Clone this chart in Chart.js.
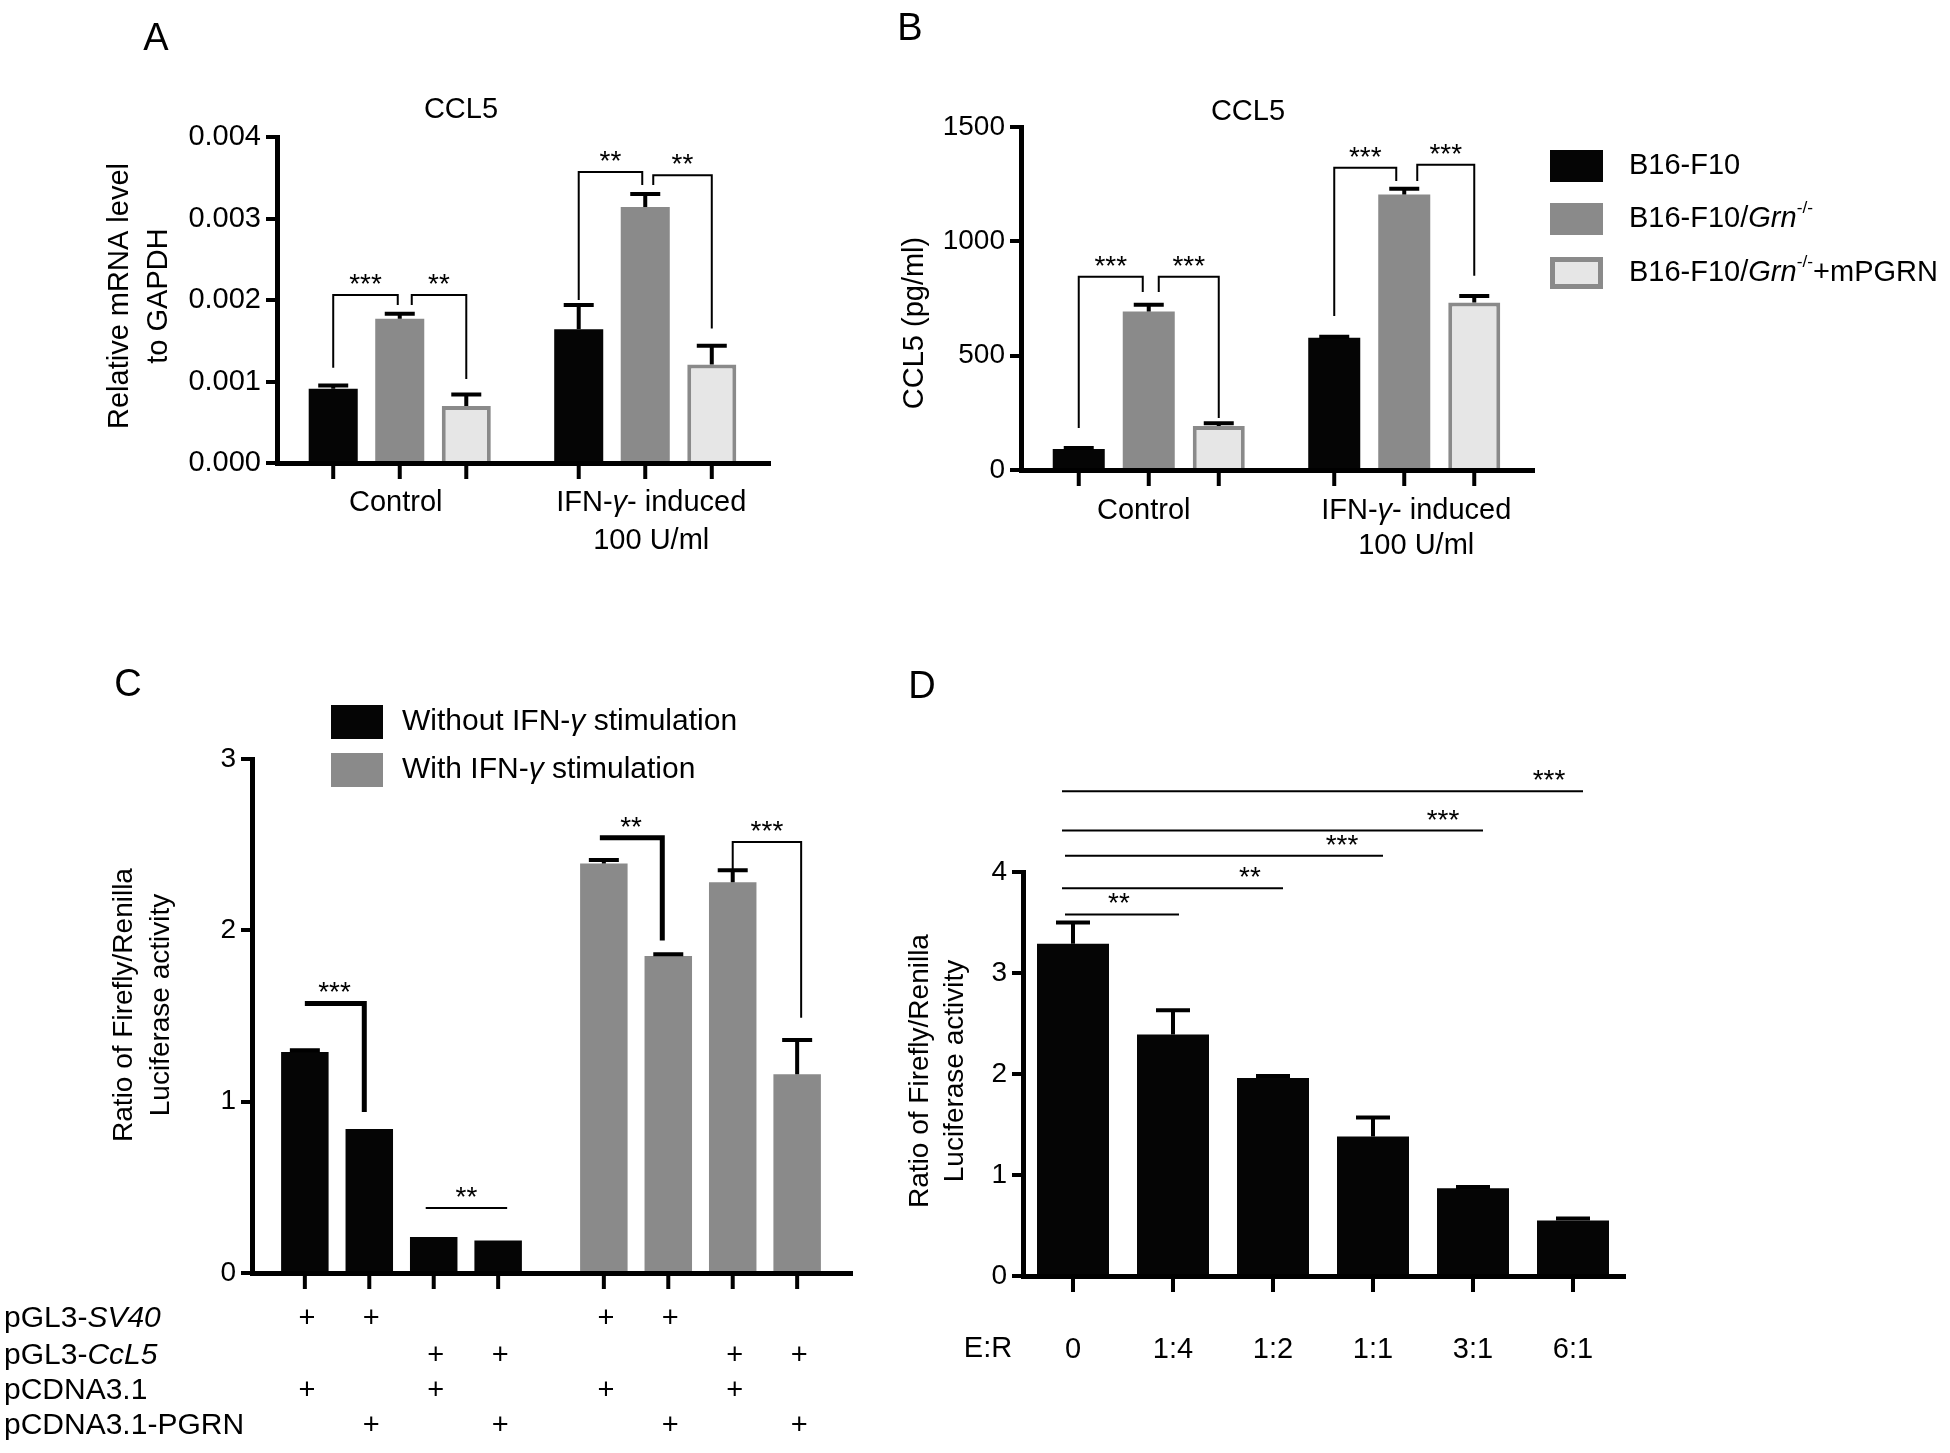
<!DOCTYPE html>
<html>
<head>
<meta charset="utf-8">
<script src="https://cdn.jsdelivr.net/npm/chart.js@4.4.0/dist/chart.umd.min.js"></script>
<style>
  html, body { margin: 0; padding: 0; background: #fff; overflow: hidden; }
  #page { position: relative; width: 1950px; height: 1453px; background: #fff; }
  #page canvas { position: absolute; left: 0; top: 0; }
</style>
</head>
<body>
<div id="page">
  <canvas id="chartA" width="1950" height="1453"></canvas>
  <canvas id="chartB" width="1950" height="1453"></canvas>
  <canvas id="chartC" width="1950" height="1453"></canvas>
  <canvas id="chartD" width="1950" height="1453"></canvas>
</div>
<script>
// ---------- data ----------
// A + B : three cell lines under two conditions
const conditions = ['Control', 'IFN-γ- induced|100 U/ml'];
const cellLines = ['B16-F10', 'B16-F10/Grn-/-', 'B16-F10/Grn-/-+mPGRN'];

// A: CCL5 mRNA relative to GAPDH
const mrnaB16 = [0.00091, 0.00164];
const mrnaGrnKO = [0.00177, 0.00314];
const mrnaRescue = [0.00070, 0.00121];
const mrnaB16Sem = [0.00004, 0.00030];
const mrnaGrnKOSem = [0.00006, 0.00016];
const mrnaRescueSem = [0.00014, 0.00023];
const mrnaTicks = [0, 0.001, 0.002, 0.003, 0.004];

// B: CCL5 protein (pg/ml)
const protB16 = [92, 578];
const protGrnKO = [693, 1205];
const protRescue = [192, 733];
const protB16Sem = [4, 5];
const protGrnKOSem = [30, 25];
const protRescueSem = [12, 28];
const protTicks = [0, 500, 1000, 1500];

// C: reporter assay, 4 plasmid combinations, without / with IFN-γ
const stimulation = ['Without IFN-γ stimulation', 'With IFN-γ stimulation'];
const plasmidRows = ['pGL3-SV40', 'pGL3-CcL5', 'pCDNA3.1', 'pCDNA3.1-PGRN'];
const combos = [[1, 0, 1, 0], [1, 0, 0, 1], [0, 1, 1, 0], [0, 1, 0, 1]]; // "+" per row
const lucWithout = [1.29, 0.84, 0.21, 0.19];
const lucWith = [2.39, 1.85, 2.28, 1.16];
const lucWithoutSem = [0.01, 0, 0, 0];
const lucWithSem = [0.02, 0.01, 0.07, 0.20];
const lucTicks = [0, 1, 2, 3];

// D: reporter activity vs E:R ratio
const erRatios = ['0', '1:4', '1:2', '1:1', '3:1', '6:1'];
const erLuc = [3.29, 2.39, 1.96, 1.38, 0.87, 0.55];
const erLucSem = [0.21, 0.24, 0.02, 0.19, 0.01, 0.02];
const erTicks = [0, 1, 2, 3, 4];

// significance marks: [dataset, index, px shift], heights in data units
const sigA = [
  {a: [0, 0, 0], b: [1, 0, -2], level: 0.00206, dropA: 0.00117, dropB: 0.00194, text: '***'},
  {a: [1, 0, 12], b: [2, 0, 0], level: 0.00206, dropA: 0.00194, dropB: 0.00103, text: '**'},
  {a: [0, 1, 0], b: [1, 1, -3], level: 0.00357, dropA: 0.0020, dropB: 0.00341, text: '**'},
  {a: [1, 1, 8], b: [2, 1, 0], level: 0.00353, dropA: 0.00341, dropB: 0.00165, text: '**'}
];
const sigB = [
  {a: [0, 0, 0], b: [1, 0, -6], level: 845, dropA: 184, dropB: 778, text: '***'},
  {a: [1, 0, 10], b: [2, 0, 0], level: 845, dropA: 778, dropB: 227, text: '***'},
  {a: [0, 1, 0], b: [1, 1, -8], level: 1322, dropA: 673, dropB: 1264, text: '***'},
  {a: [1, 1, 13], b: [2, 1, 0], level: 1335, dropA: 1264, dropB: 850, text: '***'}
];
const sigC = [
  {a: [0, 0, 0], b: [1, 0, -5], level: 1.573, dropA: null, dropB: 0.94, text: '***', lw: 5},
  {a: [2, 0, -8], b: [3, 0, 9], level: 0.38, dropA: null, dropB: null, text: '**', lw: 2},
  {a: [0, 1, -4], b: [1, 1, -6], level: 2.54, dropA: null, dropB: 1.94, text: '**', lw: 5},
  {a: [2, 1, 0], b: [3, 1, 4], level: 2.515, dropA: 2.35, dropB: 1.49, text: '***', lw: 2}
];
const sigD = [
  {a: [0, 0, -11], b: [0, 5, 10], level: 4.80, text: '***', textDx: -34},
  {a: [0, 0, -11], b: [0, 4, 10], level: 4.41, text: '***', textDx: -40},
  {a: [0, 0, -8], b: [0, 3, 10], level: 4.16, text: '***', textDx: -41},
  {a: [0, 0, -11], b: [0, 2, 10], level: 3.84, text: '**', textDx: -33},
  {a: [0, 0, -8], b: [0, 1, 6], level: 3.58, text: '**', textDx: -60}
];

// ---------- helpers ----------
const FONT = '"Liberation Sans", Arial, Helvetica, sans-serif';
const BLACK = '#050505', GRAY = '#8a8a8a', LIGHT = '#e6e6e6';
const PAGE_W = 1950, PAGE_H = 1453;

// split a label into runs: gene names italic, -/- superscript
function toRuns(str) {
  return str.split(/(γ|Grn|SV40|CcL5|-\/-)/).filter(s => s).map(s => {
    if (s === '-/-') return [s, 's'];
    if (s === 'γ' || s === 'Grn' || s === 'SV40' || s === 'CcL5') return [s, 'i'];
    return [s, ''];
  });
}

function drawText(ctx, str, x, y, o) {
  o = o || {};
  const size = o.size || 29, sx = o.squeeze || 1;
  const runs = toRuns(str);
  ctx.save();
  ctx.translate(x, y);
  if (o.rotate) ctx.rotate(o.rotate);
  ctx.scale(sx, 1);
  ctx.fillStyle = '#000';
  ctx.textAlign = 'left';
  ctx.textBaseline = o.baseline || 'middle';
  const parts = runs.map(([t, st]) => {
    const fs = st.includes('s') ? size * 0.6 : size;
    const font = (st.includes('i') ? 'italic ' : '') + fs + 'px ' + FONT;
    ctx.font = font;
    return {t, font, w: ctx.measureText(t).width, dy: st.includes('s') ? -size * 0.36 : 0};
  });
  const total = parts.reduce((s, p) => s + p.w, 0);
  let cx = o.align === 'left' ? 0 : (o.align === 'right' ? -total : -total / 2);
  parts.forEach(p => { ctx.font = p.font; ctx.fillText(p.t, cx, p.dy); cx += p.w; });
  ctx.restore();
}

function barAt(chart, ref) {
  return chart.getDatasetMeta(ref[0]).data[ref[1]].x + (ref[2] || 0);
}

function drawBarTicks(chart, len, lw) {
  const ctx = chart.ctx, bottom = chart.chartArea.bottom;
  ctx.save();
  ctx.strokeStyle = '#000';
  ctx.lineWidth = lw;
  chart.data.datasets.forEach((ds, di) => {
    chart.getDatasetMeta(di).data.forEach(bar => {
      ctx.beginPath();
      ctx.moveTo(bar.x, bottom);
      ctx.lineTo(bar.x, bottom + len);
      ctx.stroke();
    });
  });
  ctx.restore();
}

function drawErrors(chart, sems, lw, cap) {
  const ctx = chart.ctx, y = chart.scales.y;
  ctx.save();
  ctx.strokeStyle = '#000';
  ctx.lineWidth = lw;
  chart.data.datasets.forEach((ds, di) => {
    chart.getDatasetMeta(di).data.forEach((bar, i) => {
      const e = sems[di][i];
      if (!e) return;
      const top = y.getPixelForValue(ds.data[i] + e);
      ctx.beginPath();
      ctx.moveTo(bar.x, bar.y);
      ctx.lineTo(bar.x, top);
      ctx.moveTo(bar.x - cap / 2, top);
      ctx.lineTo(bar.x + cap / 2, top);
      ctx.stroke();
    });
  });
  ctx.restore();
}

function drawSig(chart, marks, lwDefault) {
  const ctx = chart.ctx, y = chart.scales.y;
  marks.forEach(m => {
    const xa = barAt(chart, m.a), xb = barAt(chart, m.b);
    const yl = y.getPixelForValue(m.level);
    ctx.save();
    ctx.strokeStyle = '#000';
    ctx.lineWidth = m.lw || lwDefault;
    ctx.lineJoin = 'miter';
    ctx.beginPath();
    if (m.dropA != null) { ctx.moveTo(xa, y.getPixelForValue(m.dropA)); ctx.lineTo(xa, yl); }
    else ctx.moveTo(xa, yl);
    ctx.lineTo(xb, yl);
    if (m.dropB != null) ctx.lineTo(xb, y.getPixelForValue(m.dropB));
    ctx.stroke();
    ctx.restore();
    const tx = m.textDx != null ? xb + m.textDx : (xa + xb) / 2;
    drawText(chart.ctx, m.text, tx, yl - 2, {size: 28, baseline: 'alphabetic'});
  });
}

function drawLegendBox(ctx, x, y, w, h, fill, border) {
  ctx.save();
  ctx.fillStyle = fill;
  ctx.fillRect(x, y, w, h);
  if (border) {
    ctx.strokeStyle = border;
    ctx.lineWidth = 5;
    ctx.strokeRect(x + 2.5, y + 2.5, w - 5, h - 5);
  }
  ctx.restore();
}

function makeChart(id, cfg) {
  const yw = 130, xh = 40;   // y scale box wide enough so tick labels are not clipped
  const area = cfg.area;
  return new Chart(document.getElementById(id), {
    type: 'bar',
    data: {
      labels: cfg.labels,
      datasets: cfg.datasets.map(d => Object.assign({
        categoryPercentage: cfg.catPct,
        barPercentage: cfg.barPct,
        borderWidth: 0
      }, d))
    },
    options: {
      responsive: false,
      animation: false,
      devicePixelRatio: 1,
      events: [],
      layout: {
        padding: {
          left: area.left - yw,
          right: PAGE_W - area.right,
          top: area.top,
          bottom: PAGE_H - area.bottom - xh
        }
      },
      plugins: { legend: {display: false}, tooltip: {enabled: false}, title: {display: false} },
      scales: {
        x: {
          offset: true,
          grid: {display: false, lineWidth: 5},
          border: {display: true, color: '#000', width: 5, z: 1},
          ticks: {display: false},
          afterFit: s => { s.height = xh; }
        },
        y: {
          min: cfg.yTicks[0],
          max: cfg.yTicks[cfg.yTicks.length - 1],
          afterBuildTicks: s => { s.ticks = cfg.yTicks.map(v => ({value: v})); },
          grid: {drawOnChartArea: false, drawTicks: true, tickLength: 11, lineWidth: 4, color: '#000'},
          border: {display: true, color: '#000', width: 5, z: 1},
          ticks: {
            color: '#000',
            padding: 5,
            font: {family: FONT, size: cfg.tickSize},
            callback: cfg.tickFmt
          },
          afterFit: s => { s.width = yw; }
        }
      }
    },
    plugins: [{ id: 'decor' + id, afterDraw: cfg.decor }]
  });
}

// ---------- panel A ----------
makeChart('chartA', {
  labels: conditions,
  area: {left: 277, right: 768, top: 137, bottom: 463},
  yTicks: mrnaTicks,
  tickSize: 29,
  tickFmt: v => v.toFixed(3),
  catPct: 0.813, barPct: 0.737,
  datasets: [
    {label: cellLines[0], data: mrnaB16, backgroundColor: BLACK},
    {label: cellLines[1], data: mrnaGrnKO, backgroundColor: GRAY},
    {label: cellLines[2], data: mrnaRescue, backgroundColor: LIGHT, borderColor: GRAY, borderWidth: 4}
  ],
  decor: chart => {
    const ctx = chart.ctx;
    drawBarTicks(chart, 16, 4);
    drawErrors(chart, [mrnaB16Sem, mrnaGrnKOSem, mrnaRescueSem], 4, 30);
    drawSig(chart, sigA, 2);
    drawText(ctx, 'A', 156, 40, {size: 38});
    drawText(ctx, 'CCL5', 461, 110, {size: 29});
    drawText(ctx, 'Relative mRNA level', 120, 296, {size: 29, rotate: -Math.PI / 2});
    drawText(ctx, 'to GAPDH', 159, 296, {size: 29, rotate: -Math.PI / 2});
    conditions.forEach((c, i) => {
      const x = chart.scales.x.getPixelForValue(i);
      c.split('|').forEach((line, k) => drawText(ctx, line, x + (i ? 6 : -4), 503 + k * 38, {size: 29}));
    });
  }
});

// ---------- panel B ----------
makeChart('chartB', {
  labels: conditions,
  area: {left: 1021, right: 1532, top: 127, bottom: 470},
  yTicks: protTicks,
  tickSize: 28,
  tickFmt: v => String(v),
  catPct: 0.822, barPct: 0.743,
  datasets: [
    {label: cellLines[0], data: protB16, backgroundColor: BLACK},
    {label: cellLines[1], data: protGrnKO, backgroundColor: GRAY},
    {label: cellLines[2], data: protRescue, backgroundColor: LIGHT, borderColor: GRAY, borderWidth: 4}
  ],
  decor: chart => {
    const ctx = chart.ctx;
    drawBarTicks(chart, 16, 4);
    drawErrors(chart, [protB16Sem, protGrnKOSem, protRescueSem], 4, 30);
    drawSig(chart, sigB, 2);
    drawText(ctx, 'B', 910, 30, {size: 38});
    drawText(ctx, 'CCL5', 1248, 112, {size: 29});
    drawText(ctx, 'CCL5 (pg/ml)', 915, 323, {size: 29, rotate: -Math.PI / 2});
    conditions.forEach((c, i) => {
      const x = chart.scales.x.getPixelForValue(i);
      c.split('|').forEach((line, k) => drawText(ctx, line, x + (i ? 12 : -5), 511 + k * 35, {size: 29}));
    });
    // legend
    const fills = [[BLACK, null], [GRAY, null], [LIGHT, GRAY]];
    const rowsY = [166, 219, 273];
    cellLines.forEach((name, i) => {
      drawLegendBox(ctx, 1550, rowsY[i] - 16, 53, 32, fills[i][0], fills[i][1]);
      drawText(ctx, name, 1629, rowsY[i], {size: 29, align: 'left'});
    });
  }
});

// ---------- panel C ----------
makeChart('chartC', {
  labels: stimulation,
  area: {left: 252, right: 850, top: 759, bottom: 1273},
  yTicks: lucTicks,
  tickSize: 28,
  tickFmt: v => String(v),
  catPct: 0.862, barPct: 0.737,
  datasets: combos.map((c, k) => ({
    label: 'combo ' + (k + 1),
    data: [lucWithout[k], lucWith[k]],
    backgroundColor: [BLACK, GRAY]
  })),
  decor: chart => {
    const ctx = chart.ctx;
    drawBarTicks(chart, 16, 4);
    const sems = combos.map((c, k) => [lucWithoutSem[k], lucWithSem[k]]);
    drawErrors(chart, sems, 4, 30);
    drawSig(chart, sigC, 2);
    drawText(ctx, 'C', 128, 686, {size: 38});
    drawText(ctx, 'Ratio of Firefly/Renilla', 124, 1005, {size: 28, rotate: -Math.PI / 2});
    drawText(ctx, 'Luciferase activity', 161, 1005, {size: 28, rotate: -Math.PI / 2});
    // legend
    const fills = [BLACK, GRAY];
    const rowsY = [722, 770];
    stimulation.forEach((s, i) => {
      drawLegendBox(ctx, 331, rowsY[i] - 17, 52, 34, fills[i], null);
      drawText(ctx, s, 402, rowsY[i], {size: 30, align: 'left'});
    });
    // plasmid table
    const tableY = [1319, 1356, 1391, 1426];
    plasmidRows.forEach((row, r) => {
      drawText(ctx, row, 4, tableY[r], {size: 30, align: 'left'});
      combos.forEach((c, k) => {
        if (!c[r]) return;
        chart.getDatasetMeta(k).data.forEach(bar => drawText(ctx, '+', bar.x + 2, tableY[r], {size: 29}));
      });
    });
  }
});

// ---------- panel D ----------
makeChart('chartD', {
  labels: erRatios,
  area: {left: 1023, right: 1623, top: 872, bottom: 1276},
  yTicks: erTicks,
  tickSize: 28,
  tickFmt: v => String(v),
  catPct: 0.8, barPct: 0.9,
  datasets: [
    {label: 'E:R', data: erLuc, backgroundColor: BLACK}
  ],
  decor: chart => {
    const ctx = chart.ctx;
    drawBarTicks(chart, 16, 4);
    drawErrors(chart, [erLucSem], 4, 34);
    drawSig(chart, sigD, 2);
    drawText(ctx, 'D', 922, 688, {size: 38});
    drawText(ctx, 'Ratio of Firefly/Renilla', 920, 1071, {size: 28, rotate: -Math.PI / 2});
    drawText(ctx, 'Luciferase activity', 955, 1071, {size: 28, rotate: -Math.PI / 2});
    drawText(ctx, 'E:R', 988, 1349, {size: 29});
    erRatios.forEach((r, i) => {
      drawText(ctx, r, chart.scales.x.getPixelForValue(i), 1350, {size: 29});
    });
  }
});
</script>
</body>
</html>
